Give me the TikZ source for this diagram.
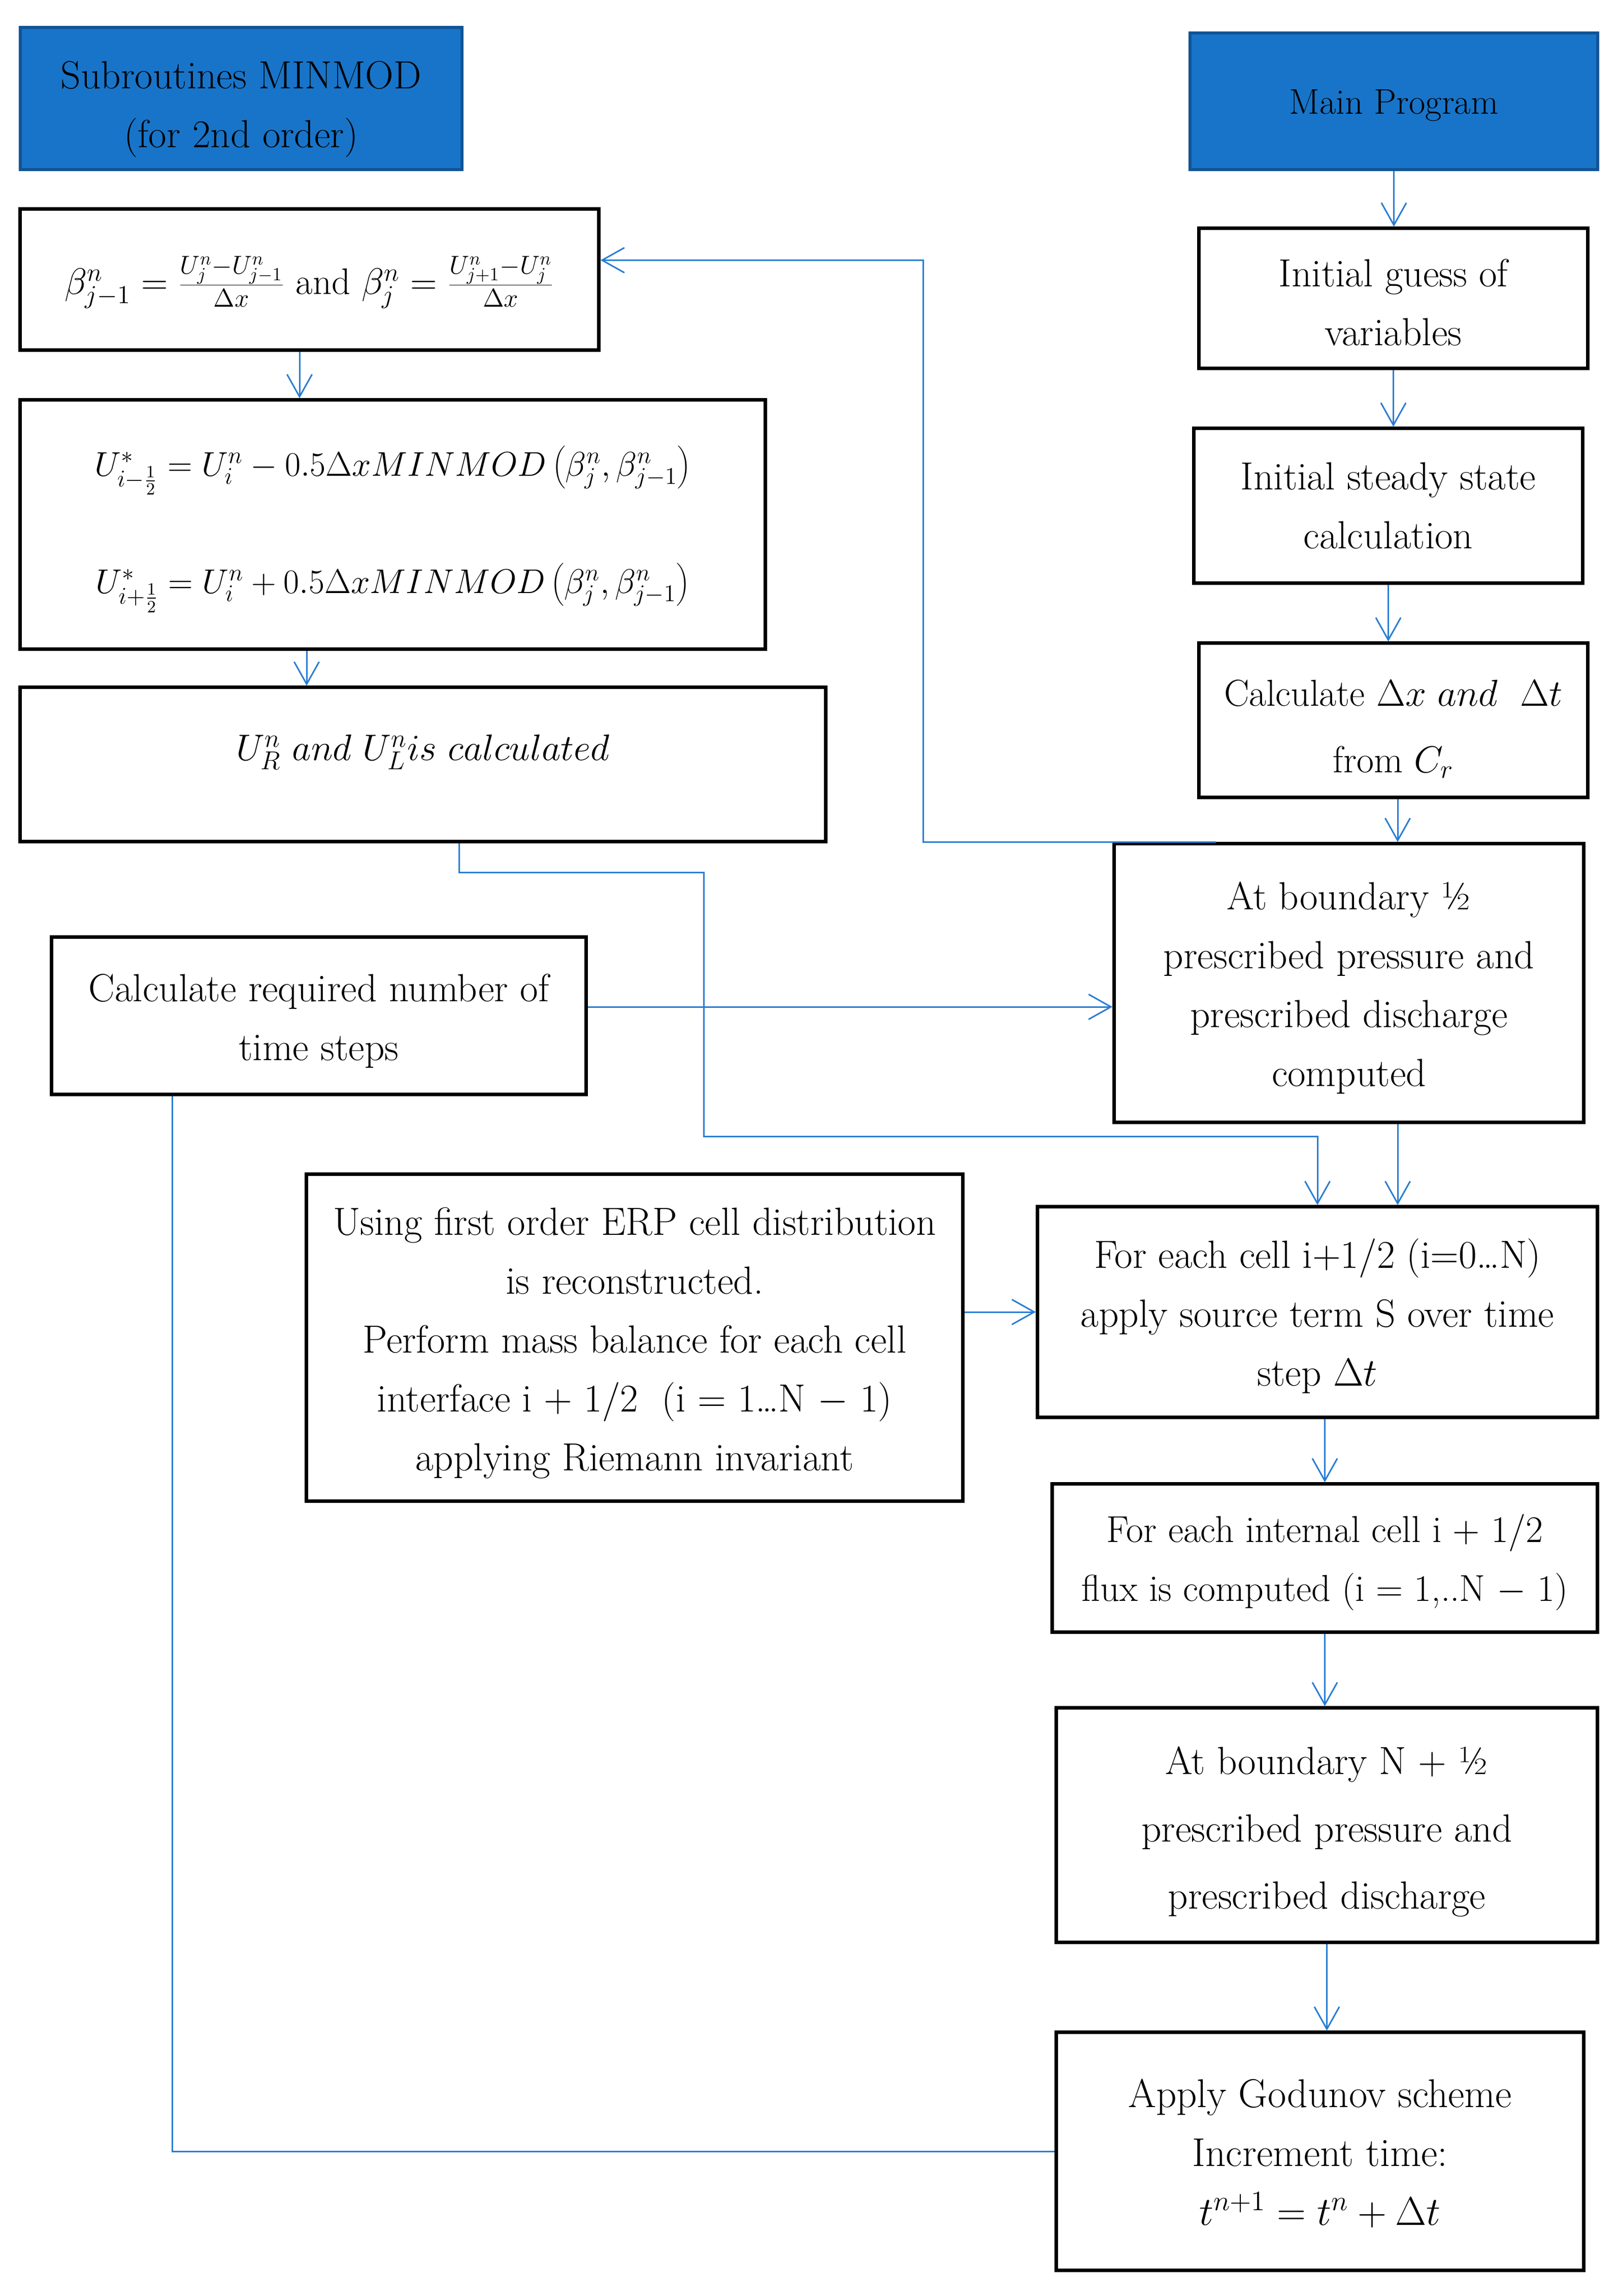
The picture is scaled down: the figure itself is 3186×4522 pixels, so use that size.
\RequirePackage{fix-cm}
\documentclass[tikz,border=0pt]{standalone}
\usetikzlibrary{arrows.meta}
\definecolor{hdrfill}{RGB}{24,116,200}
\definecolor{hdrdraw}{RGB}{16,84,150}
\definecolor{connblue}{RGB}{40,125,210}
\newcommand{\lowered}[2]{\raisebox{-#1}[\height][\depth]{\begin{tabular}{@{}c@{}}#2\end{tabular}}}
\begin{document}
\begin{tikzpicture}[x=0.01cm,y=-0.01cm,
  box/.style={draw=black, line width=2pt, align=center, inner sep=0pt,
              font=\fontsize{22}{33}\selectfont},
  hdr/.style={box, fill=hdrfill, draw=hdrdraw, line width=1.7pt},
  conn/.style={draw=connblue, line width=0.85pt},
  arr/.style={conn, -{Straight Barb[length=12.5pt,width=14pt,line width=0.85pt]}}]
\useasboundingbox (0,0) rectangle (3186,4522);

% header boxes
\node[hdr, minimum width=8.70cm, minimum height=2.80cm] (sub) at (475,194)
  {\lowered{0.15cm}{Subroutines MINMOD\\(for 2nd order)}};
\node[hdr, minimum width=8.03cm, minimum height=2.69cm, font=\fontsize{20}{33}\selectfont] (main) at (2745.5,199.5)
  {\lowered{0.02cm}{Main Program}};

% left column
\node[box, minimum width=11.39cm, minimum height=2.77cm, font=\fontsize{20.7}{33}\selectfont] (beta) at (609.5,550.5)
  {\lowered{0.06cm}{$\beta^n_{j-1} = \frac{U^n_j - U^n_{j-1}}{\Delta x}$ and $\beta^n_j = \frac{U^n_{j+1} - U^n_j}{\Delta x}$}};
\node[box, minimum width=14.67cm, minimum height=4.90cm, font=\fontsize{19.2}{33}\selectfont] (minmod) at (773.5,1033)
  {\lowered{-0.02cm}{$U^{*}_{i-\frac{1}{2}} = U^n_i - 0.5\Delta x MINMOD\left(\beta^n_j,\beta^n_{j-1}\right)$\\[1.15cm]
   $U^{*}_{i+\frac{1}{2}} = U^n_i + 0.5\Delta x MINMOD\left(\beta^n_j,\beta^n_{j-1}\right)$}};
\node[box, minimum width=15.86cm, minimum height=3.03cm, font=\fontsize{20.7}{33}\selectfont] (ur) at (833,1505.5)
  {\raisebox{0.24cm}[\height][\depth]{$U^n_R\ and\ U^n_L is\ calculated$}};
\node[box, minimum width=10.52cm, minimum height=3.09cm] (calcreq) at (628,2000.5)
  {\lowered{0.07cm}{Calculate required number of\\time steps}};
\node[box, minimum width=12.92cm, minimum height=6.43cm] (using) at (1250,2634.5)
  {\lowered{0.07cm}{Using first order ERP cell distribution\\is reconstructed.\\Perform mass balance for each cell\\interface i + 1/2\ \ (i = 1\ldots N $-$ 1)\\applying Riemann invariant}};

% right column
\node[box, minimum width=7.65cm, minimum height=2.75cm] (guess) at (2744.5,587.5)
  {\lowered{0.12cm}{Initial guess of\\variables}};
\node[box, minimum width=7.65cm, minimum height=3.04cm] (steady) at (2734.5,996)
  {\lowered{0.03cm}{Initial steady state\\calculation}};
\node[box, minimum width=7.65cm, minimum height=3.03cm, font=\fontsize{21}{33}\selectfont] (calcdx) at (2744.5,1418.5)
  {\lowered{0.14cm}{Calculate $\Delta x\ and\ \ \Delta t$\\[0.15cm]from $C_r$}};
\node[box, minimum width=9.24cm, minimum height=5.48cm] (bnd1) at (2657,1936)
  {\lowered{0.06cm}{At boundary ½\\prescribed pressure and\\prescribed discharge\\computed}};
\node[box, minimum width=11.02cm, minimum height=4.14cm] (cell) at (2595,2584)
  {\lowered{0.06cm}{For each cell i+1/2 (i=0\ldots N)\\apply source term S over time\\step $\Delta t$}};
\node[box, minimum width=10.73cm, minimum height=2.91cm, font=\fontsize{21}{33}\selectfont] (internal) at (2609.5,3068.5)
  {\lowered{0.04cm}{For each internal cell i + 1/2\\flux is computed (i = 1,..N $-$ 1)}};
\node[box, minimum width=10.65cm, minimum height=4.61cm, font=\fontsize{22}{37.7}\selectfont] (bndN) at (2613.5,3594.5)
  {\lowered{0.06cm}{At boundary N + ½\\prescribed pressure and\\prescribed discharge}};
\node[box, minimum width=10.38cm, minimum height=4.68cm, font=\fontsize{22.5}{33}\selectfont] (godunov) at (2600,4237)
  {\lowered{0.06cm}{Apply Godunov scheme\\Increment time:\\$t^{n+1} = t^n + \Delta t$}};

% helper coordinates
\coordinate (colA) at (590,0);
\coordinate (colB) at (604,0);
\coordinate (colR) at (2753,0);
\coordinate (fbkx) at (1818,0);
\coordinate (k0) at (904,0);
\coordinate (k1) at (1386,1718);
\coordinate (k2) at (2595,2238);
\coordinate (hy) at (0,1983);
\coordinate (c339) at (339,0);

% main column arrows
\draw[arr] (main.south) -- (main.south |- guess.north);
\draw[arr] (guess.south) -- (guess.south |- steady.north);
\draw[arr] (steady.south) -- (steady.south |- calcdx.north);
\draw[arr] (calcdx.south -| colR) -- (bnd1.north -| colR);
\draw[arr] (bnd1.south -| colR) -- (cell.north -| colR);
\draw[arr] (cell.south -| internal.north) -- (internal.north);
\draw[arr] (internal.south) -- (internal.south |- bndN.north);
\draw[arr] (bndN.south) -- (bndN.south |- godunov.north);

% feedback to subroutine
\draw[arr] ([xshift=2.04cm]bnd1.north west) -- (bnd1.north west -| fbkx) |- ([yshift=0.38cm]beta.east);
\draw[arr] (beta.south -| colA) -- (minmod.north -| colA);
\draw[arr] (minmod.south -| colB) -- (ur.north -| colB);
\draw[arr] (ur.south -| k0) |- (k1) -- (k1 |- k2) -- (k2) -- (k2 |- cell.north);

% side inputs
\draw[arr] (calcreq.east |- hy) -- (bnd1.west |- hy);
\draw[arr] (using.east |- cell.west) -- (cell.west);

% time loop
\draw[conn] (godunov.west) -- (godunov.west -| c339) -- (calcreq.south -| c339);
\end{tikzpicture}
\end{document}
